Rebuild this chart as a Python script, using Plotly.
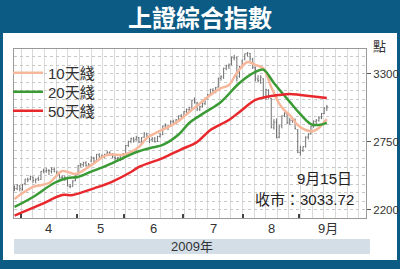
import plotly.graph_objects as go

# ---- data ----
month_days = {
    3: [27, 30, 31],
    4: [1, 2, 3, 7, 8, 9, 10, 13, 14, 15, 16, 17, 20, 21, 22, 23, 24, 27, 28, 29, 30],
    5: [4, 5, 6, 7, 8, 11, 12, 13, 14, 15, 18, 19, 20, 21, 22, 25, 26, 27],
    6: [1, 2, 3, 4, 5, 8, 9, 10, 11, 12, 15, 16, 17, 18, 19, 22, 23, 24, 25, 26, 29, 30],
    7: [1, 2, 3, 6, 7, 8, 9, 10, 13, 14, 15, 16, 17, 20, 21, 22, 23, 24, 27, 28, 29, 30, 31],
    8: [3, 4, 5, 6, 7, 10, 11, 12, 13, 14, 17, 18, 19, 20, 21, 24, 25, 26, 27, 28, 31],
    9: [1, 2, 3, 4, 7, 8, 9, 10, 11, 14, 15],
}
dates = [(m, d) for m, ds in month_days.items() for d in ds]

open_ = [2370, 2372, 2395,
         2366, 2412, 2445, 2450, 2465, 2438, 2452, 2448, 2515, 2514, 2518, 2512, 2528, 2505, 2488, 2465, 2460, 2448, 2390, 2392, 2438,
         2485, 2560, 2565, 2580, 2558, 2595, 2620, 2598, 2645, 2632, 2630, 2652, 2665, 2648, 2625, 2615, 2620, 2610,
         2650, 2722, 2755, 2775, 2770, 2785, 2745, 2790, 2815, 2795, 2770, 2775, 2755, 2795, 2810, 2880, 2875, 2885, 2915, 2905, 2935, 2960,
         2960, 2995, 3010, 3015, 3090, 3065, 3015, 3040, 3060, 3100, 3135, 3170, 3150, 3195, 3265, 3275, 3345, 3365, 3380, 3430, 3430, 3280, 3365,
         3420, 3465, 3465, 3420, 3350, 3260, 3250, 3260, 3110, 3170, 3100, 2865, 2910, 2790, 2880, 2965, 2975, 2905, 2925, 2930, 2850,
         2665, 2680, 2715, 2790, 2815, 2875, 2915, 2925, 2945, 2980, 3025]
high = [2398, 2410, 2402,
        2410, 2452, 2462, 2478, 2470, 2455, 2470, 2515, 2535, 2540, 2530, 2545, 2545, 2518, 2505, 2480, 2478, 2452, 2410, 2440, 2480,
        2560, 2580, 2590, 2595, 2580, 2635, 2630, 2652, 2660, 2650, 2655, 2680, 2675, 2660, 2635, 2630, 2635, 2660,
        2725, 2760, 2785, 2790, 2800, 2790, 2790, 2830, 2825, 2810, 2790, 2790, 2800, 2820, 2882, 2900, 2890, 2925, 2930, 2935, 2965, 2975,
        3000, 3020, 3035, 3090, 3110, 3075, 3045, 3075, 3110, 3140, 3180, 3185, 3195, 3270, 3290, 3350, 3375, 3385, 3440, 3455, 3440, 3365, 3415,
        3465, 3478, 3470, 3430, 3360, 3290, 3290, 3265, 3180, 3175, 3105, 2935, 2940, 2885, 2965, 2990, 2980, 2945, 2950, 2940, 2855,
        2720, 2715, 2795, 2820, 2880, 2925, 2935, 2960, 2985, 3030, 3050]
low = [2352, 2360, 2350,
       2356, 2400, 2425, 2440, 2420, 2415, 2435, 2445, 2498, 2500, 2482, 2495, 2505, 2470, 2455, 2445, 2435, 2392, 2375, 2388, 2432,
       2483, 2545, 2550, 2550, 2540, 2590, 2580, 2590, 2620, 2615, 2620, 2645, 2640, 2620, 2600, 2590, 2595, 2605,
       2648, 2710, 2740, 2745, 2760, 2740, 2735, 2785, 2780, 2740, 2750, 2745, 2750, 2785, 2805, 2860, 2845, 2875, 2890, 2895, 2925, 2945,
       2955, 2985, 2995, 3010, 3060, 3000, 3000, 3030, 3050, 3095, 3125, 3140, 3145, 3190, 3245, 3260, 3330, 3340, 3370, 3410, 3240, 3270, 3350,
       3410, 3440, 3400, 3340, 3240, 3230, 3220, 3100, 3090, 3100, 2860, 2850, 2780, 2780, 2860, 2950, 2895, 2885, 2905, 2850, 2660,
       2639, 2670, 2705, 2770, 2810, 2865, 2890, 2915, 2935, 2975, 3000]
close = [2374, 2401, 2373,
         2408, 2449, 2444, 2471, 2440, 2449, 2444, 2513, 2516, 2519, 2516, 2530, 2512, 2492, 2461, 2463, 2454, 2394, 2390, 2434, 2477,
         2559, 2567, 2579, 2561, 2567, 2625, 2594, 2651, 2631, 2634, 2649, 2665, 2653, 2630, 2617, 2623, 2603, 2653,
         2721, 2753, 2779, 2765, 2787, 2749, 2786, 2816, 2797, 2765, 2776, 2753, 2794, 2809, 2880, 2881, 2880, 2917, 2905, 2930, 2960, 2959,
         2995, 3014, 3009, 3088, 3073, 3017, 3036, 3063, 3102, 3130, 3175, 3151, 3189, 3266, 3277, 3347, 3366, 3373, 3434, 3435, 3266, 3361, 3412,
         3462, 3471, 3428, 3356, 3261, 3247, 3274, 3113, 3173, 3113, 2870, 2911, 2785, 2879, 2960, 2981, 2908, 2926, 2937, 2860, 2667,
         2683, 2712, 2789, 2811, 2877, 2918, 2926, 2945, 2980, 3026, 3033.72]

# moving averages (trading-day index, value)
ma10_day = [0, 7, 13, 18, 23, 28, 35, 41, 44, 47, 50, 54, 58, 62, 66, 70, 74, 78, 81, 84, 88, 91, 94, 97, 100, 102, 104, 107, 110, 113, 115, 117, 118]
ma10_val = [2289, 2386, 2418, 2515, 2491, 2548, 2645, 2645, 2669, 2710, 2782, 2830, 2870, 2920, 2993, 3060, 3130, 3185, 3211, 3308, 3397, 3373, 3345, 3195, 3060, 3005, 2968, 2887, 2847, 2839, 2863, 2910, 2935]
ma20_day = [0, 7, 15, 20, 24, 29, 35, 41, 44, 47, 52, 56, 62, 66, 72, 78, 85, 91, 94, 98, 104, 108, 112, 115, 118]
ma20_val = [2224, 2305, 2418, 2458, 2467, 2510, 2560, 2620, 2650, 2675, 2705, 2726, 2810, 2904, 2990, 3074, 3227, 3316, 3335, 3227, 3074, 2975, 2895, 2887, 2904]
ma50_day = [0, 10, 18, 22, 30, 37, 44, 47, 56, 63, 69, 74, 81, 85, 91, 95, 100, 104, 108, 113, 118]
ma50_val = [2155, 2245, 2321, 2321, 2375, 2430, 2507, 2548, 2620, 2690, 2750, 2847, 2928, 2993, 3090, 3114, 3130, 3138, 3130, 3118, 3106]

month_labels = {4: "4", 5: "5", 6: "6", 7: "7", 8: "8", 9: "9月"}
y_ticks = [2200, 2750, 3300]

# ---- derived positions ----
idx = list(range(len(dates)))
months = [m for m, _ in dates]
boundaries = [i - 0.5 for i in range(1, len(months)) if months[i] != months[i - 1]]
label_pos = []
for k, b in enumerate(boundaries):
    end = boundaries[k + 1] if k + 1 < len(boundaries) else b + 22
    label_pos.append((b + end) / 2)

BLUE = "#0b5b85"
GRID = "#d9d9d9"
TXT = "#2b2b2b"
FONT = "Liberation Sans, Arial, Noto Sans CJK TC, sans-serif"
CJK = "Noto Sans CJK TC, sans-serif"

W, H = 400, 269
L, R, T, B = 14, 34, 49, 51
pw, ph = W - L - R, H - T - B
px = lambda x: (x - L) / pw
py = lambda y: 1 - (y - T) / ph

fig = go.Figure()
fig.add_trace(go.Ohlc(
    x=idx, open=open_, high=high, low=low, close=close,
    increasing_line_color="#707070", decreasing_line_color="#707070",
    line_width=1, tickwidth=0.35, showlegend=False, hoverinfo="skip"))
ma_series = [("10天綫", ma10_day, ma10_val, "#f7b79b", "legend", 73),
             ("20天綫", ma20_day, ma20_val, "#3a9b35", "legend2", 92),
             ("50天綫", ma50_day, ma50_val, "#e8282c", "legend3", 111)]
legend_cfg = {}
for name, xd, yv, col, lg, ypos in ma_series:
    fig.add_trace(go.Scatter(x=xd, y=yv, mode="lines", name=name, legend=lg,
                             line=dict(color=col, width=2.5, shape="spline")))
    legend_cfg[lg] = dict(x=px(8), y=py(ypos), xanchor="left", yanchor="middle",
                          bgcolor="rgba(0,0,0,0)", borderwidth=0,
                          font=dict(size=15, color="#333", family=FONT))

fig.update_layout(
    width=W, height=H, margin=dict(l=L, r=R, t=T, b=B, autoexpand=False),
    paper_bgcolor=BLUE, plot_bgcolor="white",
    font=dict(family=FONT, color=TXT),
    showlegend=True,
    **legend_cfg,
    xaxis=dict(range=[-0.2, 132.8], tickmode="array", tickvals=boundaries, automargin=False,
               showticklabels=False, ticks="inside", ticklen=4, tickwidth=1.5, tickcolor="#444",
               showgrid=False, zeroline=False, showline=True, mirror=True,
               linecolor="#9a9a9a", linewidth=1, rangeslider=dict(visible=False),
               minor=dict(tickmode="linear", tick0=2.5, dtick=4.4, showgrid=True,
                          gridcolor=GRID, gridwidth=1, ticks="")),
    yaxis=dict(range=[2135, 3502], side="right", tickmode="array", tickvals=y_ticks, automargin=False,
               ticks="outside", ticklen=4, tickcolor="#555", tickfont=dict(size=11.5, color="#333"),
               showgrid=True, gridcolor="#c8c8c8", griddash="dot", zeroline=False,
               showline=True, mirror=True, linecolor="#9a9a9a", linewidth=1,
               minor=dict(tickmode="linear", tick0=2200, dtick=68.75, showgrid=True,
                          gridcolor="#c8c8c8", griddash="dot", ticks="")),
)

# white panel and year band (decoration)
fig.add_shape(type="rect", xref="paper", yref="paper", x0=px(3), x1=px(397), y0=py(260), y1=py(33),
              fillcolor="white", line_width=0, layer="below")
fig.add_shape(type="rect", xref="paper", yref="paper", x0=px(14), x1=px(370), y0=py(254), y1=py(239),
              fillcolor="#d3dee7", line_width=0, layer="below")

# title and texts
fig.add_annotation(text="<b>上證綜合指數</b>", xref="paper", yref="paper", x=px(200), y=py(16),
                   showarrow=False, font=dict(size=24, color="white", family=CJK), xanchor="center", yanchor="middle")
fig.add_annotation(text="點", xref="paper", yref="paper", x=px(379), y=py(45), showarrow=False,
                   font=dict(size=13, color="#333", family=CJK), xanchor="center", yanchor="middle")
fig.add_annotation(text="2009年", xref="paper", yref="paper", x=px(192), y=py(246.5), showarrow=False,
                   font=dict(size=13, color="#333", family=FONT), xanchor="center", yanchor="middle")
for pos, m in zip(label_pos, month_labels):
    fig.add_annotation(text=month_labels[m], xref="x", yref="paper", x=pos, y=py(228), showarrow=False,
                       font=dict(size=13, color="#333", family=FONT), xanchor="center", yanchor="middle")
last_m, last_d = dates[-1]
fig.add_annotation(text=f"{last_m}月{last_d}日", xref="paper", yref="paper", x=px(354), y=py(178),
                   showarrow=False, font=dict(size=15, color="#222", family=FONT), xanchor="right", yanchor="middle")
fig.add_annotation(text=f"收市：{close[-1]:.2f}", xref="paper", yref="paper", x=px(356), y=py(199),
                   showarrow=False, font=dict(size=15, color="#222", family=FONT), xanchor="right", yanchor="middle")

fig.write_html("out.html")
